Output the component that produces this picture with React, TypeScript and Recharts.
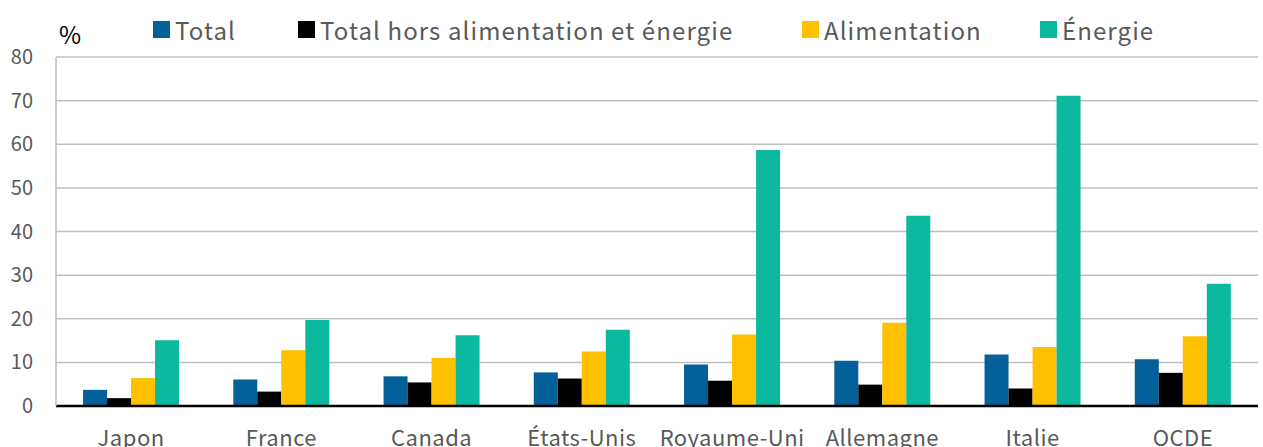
import React, { FC } from "react";
import { Bar, BarChart, CartesianGrid, Legend, XAxis, YAxis } from "recharts";

const countries = ["Japon", "France", "Canada", "États-Unis", "Royaume-Uni", "Allemagne", "Italie", "OCDE"];
const total = [3.7, 6.1, 6.8, 7.7, 9.5, 10.4, 11.8, 10.7];
const totalHors = [1.8, 3.3, 5.4, 6.3, 5.8, 4.9, 4.0, 7.6];
const alimentation = [6.4, 12.8, 11.0, 12.5, 16.4, 19.1, 13.5, 16.0];
const energie = [15.1, 19.7, 16.2, 17.5, 58.7, 43.6, 71.1, 28.0];
const yTicks = [0, 10, 20, 30, 40, 50, 60, 70, 80];

const series = [
  { key: "total", name: "Total", color: "#046098", left: 153 },
  { key: "totalHors", name: "Total hors alimentation et énergie", color: "#000000", left: 298 },
  { key: "alimentation", name: "Alimentation", color: "#FFC000", left: 802 },
  { key: "energie", name: "Énergie", color: "#0CB99E", left: 1040 },
];

const data = countries.map((name, i) => ({
  name,
  total: total[i],
  totalHors: totalHors[i],
  alimentation: alimentation[i],
  energie: energie[i],
}));

const FONT = "'Noto Sans CJK JP', 'Noto Sans', sans-serif";

const LegendBox: FC = () => (
  <div style={{ position: "relative", height: 40, fontFamily: FONT }}>
    <span style={{ position: "absolute", left: 59, top: 2, fontSize: 24, lineHeight: "30px", color: "#000" }}>%</span>
    {series.map((s) => (
      <div
        key={s.key}
        style={{ position: "absolute", left: s.left, top: -1, height: 26, display: "flex", alignItems: "center" }}
      >
        <span style={{ width: 17, height: 17, background: s.color, display: "inline-block", marginRight: 5 }} />
        <span style={{ fontSize: 24, color: "#595959", whiteSpace: "nowrap", letterSpacing: 1.1 }}>{s.name}</span>
      </div>
    ))}
  </div>
);

const XTick = (props: any) => {
  const { x, y, payload } = props;
  return (
    <text x={x} y={y + 32} textAnchor="middle" fill="#595959" fontSize={22} fontFamily={FONT} letterSpacing={0.5}>
      {payload.value}
    </text>
  );
};

const YTick = (props: any) => {
  const { y, payload } = props;
  return (
    <text x={33} y={y + 7} textAnchor="end" fill="#595959" fontSize={20} fontFamily={FONT}>
      {payload.value}
    </text>
  );
};

const App: FC = () => {
  return (
    <div style={{ position: "absolute", left: 0, top: 0, background: "#fff" }}>
      <BarChart
        width={1263}
        height={447}
        data={data}
        margin={{ top: 17, right: 5, bottom: 0, left: 0 }}
        barCategoryGap="18%"
        barGap={0}
      >
        <CartesianGrid vertical={false} stroke="#BFBFBF" strokeWidth={1.5} />
        <Legend
          verticalAlign="top"
          content={() => <LegendBox />}
          wrapperStyle={{ left: 0, width: 1263, top: 17 }}
        />
        <XAxis
          dataKey="name"
          height={41}
          tickLine={false}
          axisLine={{ stroke: "#000", strokeWidth: 2.5 }}
          tick={<XTick />}
          interval={0}
        />
        <YAxis
          width={56}
          domain={[0, 80]}
          ticks={yTicks}
          tickLine={false}
          axisLine={{ stroke: "#BFBFBF", strokeWidth: 1.5 }}
          tick={<YTick />}
          interval={0}
        />
        {series.map((s) => (
          <Bar key={s.key} dataKey={s.key} name={s.name} fill={s.color} isAnimationActive={false} />
        ))}
      </BarChart>
    </div>
  );
};

export default App;
